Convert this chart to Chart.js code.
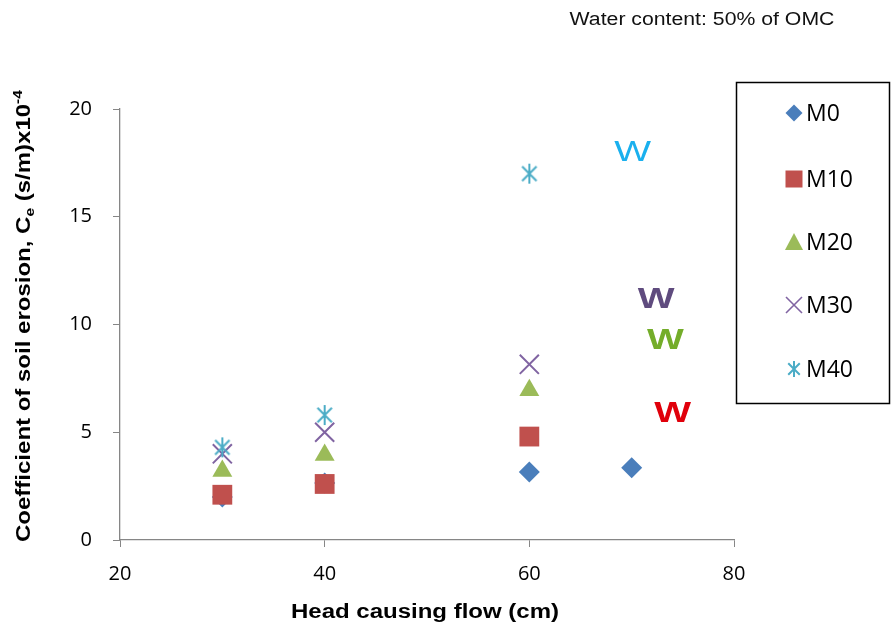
<!DOCTYPE html>
<html lang="en">
  <head>
    <meta charset="utf-8" />
    <title>Coefficient of soil erosion</title>
    <script src="https://cdn.jsdelivr.net/npm/chart.js@4.4.0/dist/chart.umd.min.js"></script>
    <style>
      html, body { margin: 0; padding: 0; background: #fff; }
      #wrap { width: 892px; height: 626px; position: relative; }
    </style>
  </head>
  <body>
    <div id="wrap"><canvas id="erosionChart"></canvas></div>

    <script>
      // head causing flow (cm) for each test
      const head = [30, 40, 60];
      const headM0 = [30, 40, 60, 70];

      // Ce values (x10^-4 s/m) per mix
      const m0 = [2.0, 2.65, 3.15, 3.35];
      const m10 = [2.1, 2.6, 4.8];
      const m20 = [3.2, 3.95, 6.95];
      const m30 = [4.0, 5.0, 8.15];
      const m40 = [4.3, 5.8, 17.0];

      const seriesNames = ['M0', 'M10', 'M20', 'M30', 'M40'];
      const xTicks = [20, 40, 60, 80];
      const yTicks = [0, 5, 10, 15, 20];

      // "W" labels placed beside the points
      const wLabels = [
        { x: 70.1, y: 17.95, color: '#1ab0ee', weight: 'normal' },
        { x: 72.4, y: 11.15, color: '#5f4b7e', weight: 'bold' },
        { x: 73.3, y: 9.25, color: '#74ad2a', weight: 'bold' },
        { x: 74.0, y: 5.85, color: '#e0000b', weight: 'bold' }
      ];

      const colors = ['#4a7ebb', '#c0504d', '#9bbb59', '#8064a2', '#4bacc6'];
      const SANS = '"Liberation Sans", Arial, sans-serif';
      const TICKS = '"Open Sans", sans-serif';

      // asterisk marker: vertical bar plus an X
      function asterisk(size, color, lw) {
        const c = document.createElement('canvas');
        c.width = size; c.height = size;
        const g = c.getContext('2d');
        const h = size / 2, r = h - 1, d = r * 0.72;
        g.strokeStyle = color; g.lineWidth = lw;
        g.beginPath();
        g.moveTo(h, h - r); g.lineTo(h, h + r);
        g.moveTo(h - d, h - d); g.lineTo(h + d, h + d);
        g.moveTo(h - d, h + d); g.lineTo(h + d, h - d);
        g.stroke();
        return c;
      }
      const starBig = asterisk(22, colors[4], 2);
      const starSmall = asterisk(18, colors[4], 2);

      const styles = ['rectRot', 'rect', 'triangle', 'crossRot', starBig];
      const radii = [10.5, 14, 11.5, 13.5, 11];

      const pts = (xs, ys) => xs.map((x, i) => ({ x: x, y: ys[i] }));
      const allData = [pts(headM0, m0), pts(head, m10), pts(head, m20), pts(head, m30), pts(head, m40)];

      const datasets = seriesNames.map((name, i) => ({
        label: name,
        data: allData[i],
        pointStyle: styles[i],
        pointRadius: radii[i],
        pointHoverRadius: radii[i],
        backgroundColor: colors[i],
        borderColor: colors[i],
        pointBorderWidth: (i === 3) ? 2 : 0,
        showLine: false,
        order: 4 - i
      }));

      // small legend marker
      function legendMark(ctx, i, x, y) {
        const c = colors[i];
        ctx.save();
        ctx.fillStyle = c; ctx.strokeStyle = c; ctx.lineWidth = 1.6;
        ctx.beginPath();
        if (i === 0) {
          ctx.moveTo(x, y - 8.5); ctx.lineTo(x + 8.5, y); ctx.lineTo(x, y + 8.5); ctx.lineTo(x - 8.5, y);
          ctx.closePath(); ctx.fill();
        } else if (i === 1) {
          ctx.fillRect(x - 8.5, y - 8.5, 17, 17);
        } else if (i === 2) {
          ctx.moveTo(x, y - 9); ctx.lineTo(x + 9, y + 8); ctx.lineTo(x - 9, y + 8);
          ctx.closePath(); ctx.fill();
        } else if (i === 3) {
          ctx.moveTo(x - 8, y - 8); ctx.lineTo(x + 8, y + 8);
          ctx.moveTo(x - 8, y + 8); ctx.lineTo(x + 8, y - 8);
          ctx.stroke();
        } else {
          ctx.drawImage(starSmall, x - 9, y - 9);
        }
        ctx.restore();
      }

      // text stretched sideways, drawn from its centre
      function wideText(ctx, text, x, y, font, stretch) {
        ctx.save();
        ctx.translate(x, y);
        ctx.scale(stretch, 1);
        ctx.font = font;
        ctx.textAlign = 'center';
        ctx.fillText(text, 0, 0);
        ctx.restore();
      }

      const extras = {
        id: 'extras',
        afterDraw(chart) {
          const ctx = chart.ctx;
          const xs = chart.scales.x, ys = chart.scales.y;
          ctx.save();
          ctx.textBaseline = 'alphabetic';

          // note at the top right
          ctx.fillStyle = '#111';
          wideText(ctx, 'Water content: 50% of OMC', 702, 25, '18px ' + SANS, 1.18);

          // x axis title
          ctx.fillStyle = '#000';
          wideText(ctx, 'Head causing flow (cm)', 425, 618, 'bold 20px ' + SANS, 1.2);

          // W labels
          ctx.textBaseline = 'middle';
          wLabels.forEach(w => {
            ctx.fillStyle = w.color;
            wideText(ctx, 'W', xs.getPixelForValue(w.x), ys.getPixelForValue(w.y),
              w.weight + ' 30px ' + SANS, 1.3);
          });

          // legend box
          ctx.strokeStyle = '#000';
          ctx.lineWidth = 1.5;
          ctx.strokeRect(736.5, 82.5, 153, 321);
          const rows = [113, 179, 242, 305, 369];
          ctx.font = '23px ' + TICKS;
          ctx.textAlign = 'left';
          ctx.textBaseline = 'middle';
          ctx.fillStyle = '#000';
          seriesNames.forEach((n, i) => {
            legendMark(ctx, i, 794, rows[i]);
            ctx.fillText(n, 806, rows[i] + 1);
          });

          // y axis title with subscript and superscript
          ctx.textBaseline = 'alphabetic';
          ctx.translate(30, 316);
          ctx.rotate(-Math.PI / 2);
          ctx.scale(1.2, 1);
          const big = 'bold 20px ' + SANS;
          const small = 'bold 13px ' + SANS;
          const parts = [
            { t: 'Coefficient of soil erosion, C', f: big, dy: 0 },
            { t: 'e', f: small, dy: 4 },
            { t: ' (s/m)x10', f: big, dy: 0 },
            { t: '-4', f: small, dy: -8 }
          ];
          let total = 0;
          parts.forEach(p => { ctx.font = p.f; p.w = ctx.measureText(p.t).width; total += p.w; });
          let px = -total / 2;
          ctx.fillStyle = '#000';
          ctx.textAlign = 'left';
          parts.forEach(p => {
            ctx.font = p.f;
            ctx.fillText(p.t, px, p.dy);
            px += p.w;
          });
          ctx.restore();
        }
      };

      const axisColor = '#868686';
      const tickFont = { family: TICKS, size: 20 };

      new Chart(document.getElementById('erosionChart'), {
        type: 'scatter',
        data: { datasets: datasets },
        options: {
          responsive: true,
          maintainAspectRatio: false,
          animation: false,
          layout: { padding: { top: 109, right: 158, left: 0, bottom: 0 } },
          plugins: {
            legend: { display: false },
            tooltip: { enabled: false }
          },
          scales: {
            x: {
              type: 'linear',
              min: 20,
              max: 80,
              afterBuildTicks: s => { s.ticks = xTicks.map(v => ({ value: v })); },
              afterFit: s => { s.height = 86; },
              border: { color: axisColor, width: 1.3 },
              grid: { drawOnChartArea: false, drawTicks: true, tickLength: 7, color: axisColor },
              ticks: { color: '#000', font: tickFont, padding: 15 }
            },
            y: {
              type: 'linear',
              min: 0,
              max: 20,
              afterBuildTicks: s => { s.ticks = yTicks.map(v => ({ value: v })); },
              afterFit: s => { s.width = 120; },
              border: { color: axisColor, width: 1.3 },
              grid: { drawOnChartArea: false, drawTicks: true, tickLength: 7, color: axisColor },
              ticks: { color: '#000', font: tickFont, padding: 21 }
            }
          }
        },
        plugins: [extras]
      });
    </script>
  </body>
</html>
